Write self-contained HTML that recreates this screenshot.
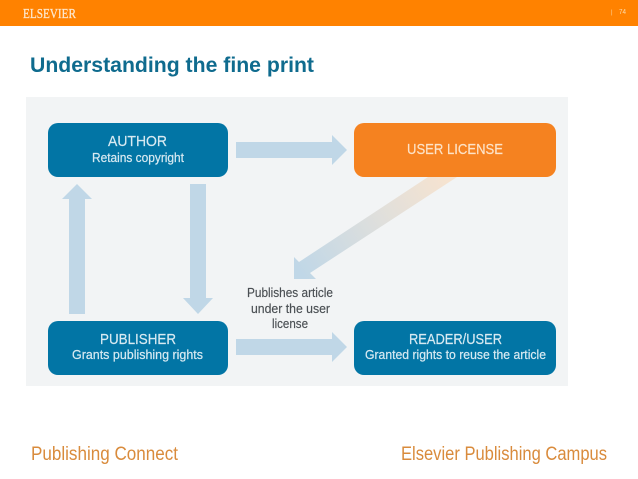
<!DOCTYPE html>
<html>
<head>
<meta charset="utf-8">
<style>
html,body{margin:0;padding:0;background:#fff;width:638px;height:479px;overflow:hidden}
svg{display:block;filter:blur(.35px)}
text{font-family:"Liberation Sans",sans-serif}
</style>
</head>
<body>
<svg width="638" height="479" viewBox="0 0 638 479" xmlns="http://www.w3.org/2000/svg">
<defs>
<linearGradient id="g" gradientUnits="userSpaceOnUse" x1="445" y1="177" x2="300" y2="272">
<stop offset="0" stop-color="#f6e3d0"/>
<stop offset="0.45" stop-color="#dfdfdc"/>
<stop offset="1" stop-color="#c0d7e7"/>
</linearGradient>
</defs>
<rect width="638" height="479" fill="#fff"/>
<rect width="638" height="26" fill="#ff8200"/>
<text x="23" y="18" font-size="13.5" textLength="53" lengthAdjust="spacingAndGlyphs" fill="#fde9d0" stroke="#fde9d0" stroke-width=".25" style="font-family:'Liberation Serif',serif">ELSEVIER</text>
<text x="611" y="14" font-size="6" fill="#fbdcae">|</text>
<text x="619" y="14" font-size="7" textLength="7" lengthAdjust="spacingAndGlyphs" fill="#fbdcae">74</text>
<text x="30" y="72" font-size="21" font-weight="bold" textLength="284" lengthAdjust="spacingAndGlyphs" fill="#0f6b8e">Understanding the fine print</text>

<rect x="26" y="97" width="542" height="289" fill="#f2f4f5"/>

<rect x="48" y="123" width="180" height="54" rx="10" fill="#0275a5"/>
<rect x="354" y="123" width="202" height="54" rx="10" fill="#f58220"/>
<rect x="48" y="321" width="180" height="54" rx="10" fill="#0275a5"/>
<rect x="354" y="321" width="202" height="54" rx="10" fill="#0275a5"/>

<g fill="#c0d7e7">
<polygon points="236,142 332,142 332,135 347,150 332,165 332,158 236,158"/>
<polygon points="236,339 332,339 332,332 347,347 332,362 332,355 236,355"/>
<polygon points="69,314 69,199 62,199 77,184 92,199 85,199 85,314"/>
<polygon points="190,184 206,184 206,298 213,298 198,314 183,298 190,298"/>
</g>
<polygon points="428,177 457,177 310,273 316,279 294,279 294,257 299,262" fill="url(#g)"/>

<g fill="#d8eaf2" stroke="#d8eaf2" stroke-width=".2">
<text x="108" y="146" font-size="15" textLength="59" lengthAdjust="spacingAndGlyphs">AUTHOR</text>
<text x="92" y="162" font-size="13" textLength="92" lengthAdjust="spacingAndGlyphs">Retains copyright</text>
<text x="100" y="344" font-size="15" textLength="76" lengthAdjust="spacingAndGlyphs">PUBLISHER</text>
<text x="72" y="359" font-size="13" textLength="131" lengthAdjust="spacingAndGlyphs">Grants publishing rights</text>
<text x="409" y="344" font-size="15" textLength="93" lengthAdjust="spacingAndGlyphs">READER/USER</text>
<text x="365" y="359" font-size="13" textLength="181" lengthAdjust="spacingAndGlyphs">Granted rights to reuse the article</text>
</g>
<text x="407" y="154" font-size="15" textLength="96" lengthAdjust="spacingAndGlyphs" fill="#fde3c8" stroke="#fde3c8" stroke-width=".2">USER LICENSE</text>

<g fill="#4a4f53" font-size="13" stroke="#4a4f53" stroke-width=".15">
<text x="247" y="297" textLength="86" lengthAdjust="spacingAndGlyphs">Publishes article</text>
<text x="251" y="313" textLength="79" lengthAdjust="spacingAndGlyphs">under the user</text>
<text x="272" y="328" textLength="36" lengthAdjust="spacingAndGlyphs">license</text>
</g>

<g fill="#d98b3c" font-size="19">
<text x="31" y="460" textLength="147" lengthAdjust="spacingAndGlyphs">Publishing Connect</text>
<text x="401" y="460" textLength="206" lengthAdjust="spacingAndGlyphs">Elsevier Publishing Campus</text>
</g>
</svg>
</body>
</html>
